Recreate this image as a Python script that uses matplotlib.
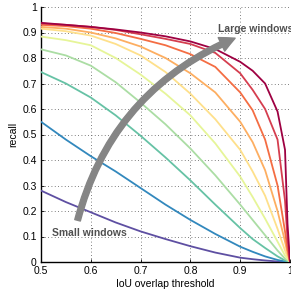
import matplotlib
matplotlib.use("Agg")
import matplotlib.pyplot as plt
from matplotlib.patches import FancyArrowPatch

plt.rcParams['font.family'] = ['Liberation Sans', 'DejaVu Sans']

# IoU thresholds shared by all curves
iou = [0.5, 0.55, 0.6, 0.65, 0.7, 0.75, 0.8, 0.85, 0.9, 0.925, 0.95, 0.975, 0.99, 0.995, 1.0]

# recall per window size, small -> large
recall_w1 = [.28, .235, .195, .155, .12, .09, .062, .037, .017, .011, .006, .002, .001, 0, 0]
recall_w2 = [.55, .48, .415, .355, .29, .225, .165, .11, .06, .04, .022, .008, .002, .001, 0]
recall_w3 = [.745, .70, .645, .575, .495, .41, .32, .225, .133, .09, .055, .022, .006, .003, 0]
recall_w4 = [.834, .81, .77, .705, .625, .54, .445, .34, .225, .165, .105, .045, .013, .006, 0]
recall_w5 = [.884, .87, .85, .80, .735, .66, .575, .465, .335, .255, .17, .08, .025, .012, 0]
recall_w6 = [.915, .905, .888, .855, .81, .745, .66, .56, .44, .355, .26, .13, .045, .02, 0]
recall_w7 = [.922, .915, .90, .877, .845, .80, .74, .665, .55, .47, .36, .2, .08, .035, 0]
recall_w8 = [.93, .925, .915, .898, .875, .85, .815, .765, .665, .595, .48, .3, .12, .05, 0]
recall_w9 = [.935, .93, .922, .91, .893, .875, .855, .82, .74, .675, .6, .48, .24, .09, 0]
recall_w10 = [.938, .93, .922, .912, .90, .885, .865, .835, .785, .75, .70, .59, .44, .15, 0]

curves = [recall_w1, recall_w2, recall_w3, recall_w4, recall_w5,
          recall_w6, recall_w7, recall_w8, recall_w9, recall_w10]
colors = ['#5e4fa2', '#3288bd', '#66c2a5', '#abdda4', '#e6f598',
          '#fee08b', '#fdae61', '#f46d43', '#d53e4f', '#9e0142']

xticks = [0.5, 0.6, 0.7, 0.8, 0.9, 1.0]
xtick_labels = ['0.5', '0.6', '0.7', '0.8', '0.9', '1']
yticks = [0, 0.1, 0.2, 0.3, 0.4, 0.5, 0.6, 0.7, 0.8, 0.9, 1.0]
ytick_labels = ['0', '0.1', '0.2', '0.3', '0.4', '0.5', '0.6', '0.7', '0.8', '0.9', '1']

fig = plt.figure(figsize=(2.91, 2.97), dpi=100)
ax = fig.add_axes([41 / 291, 35 / 297, 249 / 291, 255 / 297])

for r, c in zip(curves, colors):
    ax.plot(iou, r, color=c, lw=1.3, zorder=3)

ax.set_xlim(0.5, 1.0)
ax.set_ylim(0, 1.0)
ax.set_xticks(xticks)
ax.set_xticklabels(xtick_labels)
ax.set_yticks(yticks)
ax.set_yticklabels(ytick_labels)
ax.tick_params(direction='in', length=2, width=0.6, labelsize=7.5, pad=3)
ax.grid(True, linestyle=(0, (1, 3)), color='#555555', lw=0.6)
for s in ['top', 'right']:
    ax.spines[s].set_visible(False)
for s in ['left', 'bottom']:
    ax.spines[s].set_linewidth(1.0)

ax.set_xlabel('IoU overlap threshold', fontsize=7.5, labelpad=2)
ax.set_ylabel('recall', fontsize=7.5, labelpad=3)

# gray arrow from small to large windows
arrow = FancyArrowPatch((0.572, 0.153), (0.895, 0.882),
                        connectionstyle='arc3,rad=-0.25',
                        arrowstyle='simple,head_length=0.6,head_width=0.6,tail_width=0.23',
                        mutation_scale=18, color='#858585', zorder=5)
ax.add_patch(arrow)

ax.text(0.855, 0.913, 'Large windows', fontsize=7.5, fontweight='bold',
        color='#505050', va='center', ha='left', clip_on=False, zorder=6)
ax.text(0.522, 0.114, 'Small windows', fontsize=7.5, fontweight='bold',
        color='#505050', va='center', ha='left', zorder=6)

fig.savefig('out.png', dpi=100)
